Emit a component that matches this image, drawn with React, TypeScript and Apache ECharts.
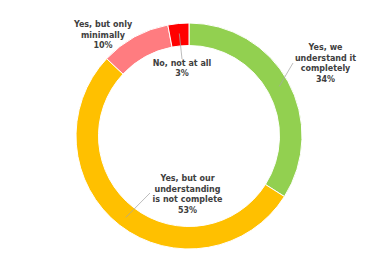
import React, { useEffect, useRef } from "react";
import * as echarts from "echarts";

const categories = [
  "Yes, we\nunderstand it\ncompletely",
  "Yes, but our\nunderstanding\nis not complete",
  "Yes, but only\nminimally",
  "No, not at all",
];
const values = [34, 53, 10, 3];
const colors = ["#92D050", "#FFC000", "#FF7C80", "#FF0000"];
const labelPos: [number, number][] = [
  [325.5, 63.5],
  [187.5, 194.5],
  [103, 35],
  [182, 68.5],
];
// leader line end points (null = no leader line)
const leaderEnd: ([number, number] | null)[] = [
  [293, 63],
  [150, 193],
  null,
  [182, 59],
];

const CX = 189;
const CY = 136;
const R_IN = 90.5;
const R_OUT = 113;
const R_LEADER = 103;

export default function App() {
  const ref = useRef<HTMLDivElement>(null);
  useEffect(() => {
    if (!ref.current) return;
    const chart = echarts.init(ref.current, undefined, { renderer: "svg" });
    const total = values.reduce((a, b) => a + b, 0);
    let acc = 0;
    const lines: any[] = [];
    values.forEach((v, i) => {
      const mid = ((acc + v / 2) / total) * Math.PI * 2;
      acc += v;
      const end = leaderEnd[i];
      if (!end) return;
      const sx = CX + R_LEADER * Math.sin(mid);
      const sy = CY - R_LEADER * Math.cos(mid);
      lines.push({
        type: "line",
        z: 10,
        shape: { x1: sx, y1: sy, x2: end[0], y2: end[1] },
        style: { stroke: "#a6a6a6", lineWidth: 0.75 },
      });
    });
    chart.setOption({
      animation: false,
      backgroundColor: "#ffffff",
      graphic: lines,
      series: [
        {
          type: "pie",
          center: [CX, CY],
          radius: [R_IN, R_OUT],
          startAngle: 90,
          clockwise: true,
          data: categories.map((c, i) => ({
            name: c,
            value: values[i],
            itemStyle: { color: colors[i] },
          })),
          itemStyle: { borderColor: "#ffffff", borderWidth: 1 },
          label: {
            show: true,
            formatter: "{b}\n{c}%",
            fontFamily: "DejaVu Sans",
            fontWeight: "bold",
            fontSize: 8,
            lineHeight: 10.5,
            color: "#404040",
            align: "center",
            overflow: "none",
            width: 200,
          },
          labelLine: { show: false },
          labelLayout: (p: any) => {
            const pos = labelPos[p.dataIndex];
            return {
              x: pos[0],
              y: pos[1],
              align: "center",
              verticalAlign: "middle",
            };
          },
        },
      ],
    });
    return () => chart.dispose();
  }, []);
  return (
    <div
      ref={ref}
      style={{ position: "fixed", left: 0, top: 0, width: 379, height: 274 }}
    />
  );
}
